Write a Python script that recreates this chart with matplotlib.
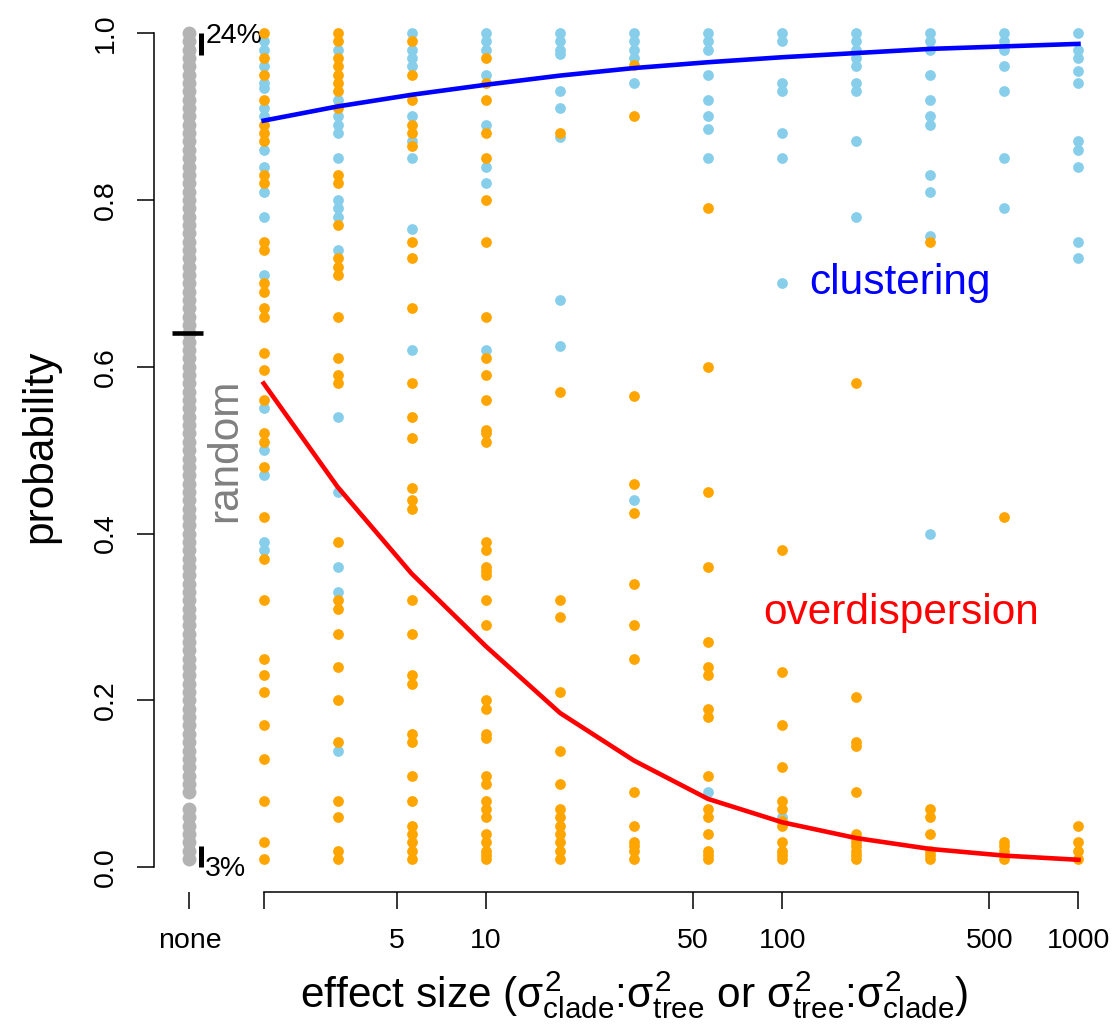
import matplotlib
matplotlib.use('Agg')
import matplotlib.pyplot as plt
from matplotlib.ticker import NullLocator

plt.rcParams['font.family'] = 'Liberation Sans'
plt.rcParams['mathtext.fontset'] = 'custom'
plt.rcParams['mathtext.rm'] = 'Liberation Sans'
plt.rcParams['mathtext.it'] = 'Liberation Sans'
plt.rcParams['mathtext.bf'] = 'Liberation Sans:bold'

# effect sizes of the simulated columns ("none" sits at 1)
effect = [1.78, 3.16, 5.62, 10, 17.8, 31.6, 56.2, 100, 178, 316, 562, 1000]
none_x = 1

# probabilities without any effect (grey column)
random_p = [0.01, 0.02, 0.03, 0.04, 0.05, 0.06, 0.07, 0.09, 0.10,
            0.11, 0.12, 0.13, 0.14, 0.15, 0.16, 0.17, 0.18, 0.19, 0.20,
            0.21, 0.22, 0.23, 0.24, 0.25, 0.26, 0.27, 0.28, 0.29, 0.30,
            0.31, 0.32, 0.33, 0.34, 0.35, 0.36, 0.37, 0.38, 0.39, 0.40,
            0.41, 0.42, 0.43, 0.44, 0.45, 0.46, 0.47, 0.48, 0.49, 0.50,
            0.51, 0.52, 0.53, 0.54, 0.55, 0.56, 0.57, 0.58, 0.59, 0.60,
            0.61, 0.62, 0.63, 0.64, 0.65, 0.66, 0.67, 0.68, 0.69, 0.70,
            0.71, 0.72, 0.73, 0.74, 0.75, 0.76, 0.77, 0.78, 0.79, 0.80,
            0.81, 0.82, 0.83, 0.84, 0.85, 0.86, 0.87, 0.88, 0.89, 0.90,
            0.91, 0.92, 0.93, 0.94, 0.95, 0.96, 0.97, 0.98, 0.99, 1.00]
random_mean = 0.64

# clustering simulations (sky blue), one list per effect size
clust_p = [
    [0.99, 0.98, 0.96, 0.94, 0.934, 0.91, 0.90, 0.86, 0.84, 0.81, 0.78, 0.71, 0.55, 0.50, 0.47, 0.39, 0.38],
    [0.98, 0.92, 0.90, 0.89, 0.88, 0.85, 0.80, 0.79, 0.78, 0.74, 0.54, 0.45, 0.36, 0.33, 0.14],
    [1.0, 0.98, 0.97, 0.96, 0.90, 0.87, 0.85, 0.765, 0.62],
    [1.0, 0.99, 0.98, 0.95, 0.89, 0.84, 0.82, 0.62],
    [1.0, 0.99, 0.98, 0.975, 0.93, 0.91, 0.875, 0.68, 0.625],
    [1.0, 0.99, 0.98, 0.97, 0.94, 0.44],
    [1.0, 0.99, 0.98, 0.95, 0.92, 0.90, 0.885, 0.85, 0.09],
    [1.0, 0.99, 0.94, 0.93, 0.88, 0.85, 0.70, 0.06],
    [1.0, 0.99, 0.98, 0.97, 0.96, 0.94, 0.93, 0.87, 0.78],
    [1.0, 0.99, 0.98, 0.95, 0.92, 0.90, 0.89, 0.83, 0.81, 0.757, 0.40],
    [1.0, 0.99, 0.98, 0.96, 0.93, 0.85, 0.79],
    [1.0, 0.98, 0.97, 0.955, 0.94, 0.87, 0.86, 0.84, 0.75, 0.73],
]

# overdispersion simulations (orange)
over_p = [
    [1.0, 0.97, 0.95, 0.92, 0.89, 0.88, 0.87, 0.83, 0.82, 0.75, 0.74, 0.70, 0.69, 0.67, 0.66,
     0.616, 0.596, 0.56, 0.52, 0.51, 0.48, 0.42, 0.37, 0.32, 0.25, 0.23, 0.21, 0.17, 0.13, 0.08, 0.03, 0.01],
    [1.0, 0.99, 0.97, 0.96, 0.95, 0.94, 0.93, 0.91, 0.83, 0.82, 0.77, 0.73, 0.72, 0.71, 0.66,
     0.61, 0.59, 0.58, 0.39, 0.32, 0.31, 0.28, 0.24, 0.20, 0.15, 0.08, 0.06, 0.02, 0.01],
    [0.99, 0.95, 0.92, 0.89, 0.88, 0.865, 0.75, 0.73, 0.67, 0.58, 0.54, 0.515, 0.455, 0.44, 0.43,
     0.32, 0.28, 0.23, 0.22, 0.16, 0.15, 0.11, 0.08, 0.05, 0.04, 0.03, 0.02, 0.01],
    [0.97, 0.94, 0.92, 0.88, 0.85, 0.80, 0.75, 0.66, 0.61, 0.59, 0.56, 0.524, 0.52, 0.51, 0.39,
     0.38, 0.36, 0.355, 0.35, 0.32, 0.29, 0.20, 0.19, 0.16, 0.155, 0.11, 0.10, 0.08, 0.07, 0.06,
     0.04, 0.03, 0.02, 0.015, 0.01],
    [0.88, 0.57, 0.32, 0.30, 0.21, 0.14, 0.10, 0.07, 0.06, 0.05, 0.04, 0.03, 0.02, 0.01],
    [0.962, 0.90, 0.565, 0.46, 0.425, 0.34, 0.29, 0.25, 0.09, 0.05, 0.03, 0.025, 0.02, 0.01],
    [0.79, 0.60, 0.45, 0.36, 0.27, 0.24, 0.23, 0.19, 0.18, 0.11, 0.07, 0.06, 0.04, 0.02, 0.015, 0.01],
    [0.38, 0.234, 0.17, 0.12, 0.08, 0.07, 0.055, 0.05, 0.03, 0.02, 0.015, 0.01],
    [0.58, 0.204, 0.15, 0.145, 0.09, 0.04, 0.035, 0.03, 0.025, 0.02, 0.015, 0.01],
    [0.75, 0.07, 0.06, 0.04, 0.02, 0.015, 0.01],
    [0.42, 0.03, 0.025, 0.02, 0.01],
    [0.05, 0.03, 0.02, 0.01],
]

# fitted curves read at each effect size
clust_curve = [0.895, 0.912, 0.926, 0.938, 0.949, 0.958, 0.965, 0.971, 0.976, 0.981, 0.984, 0.987]
over_curve = [0.58, 0.456, 0.352, 0.265, 0.185, 0.128, 0.082, 0.054, 0.035, 0.022, 0.014, 0.009]

xticks = [1, 1.78, 5, 10, 50, 100, 500, 1000]
xtick_labels = ['none', '', '5', '10', '50', '100', '500', '1000']
yticks = [0.0, 0.2, 0.4, 0.6, 0.8, 1.0]

fig = plt.figure(figsize=(11.16, 10.30), dpi=100)
ax = fig.add_axes([154 / 1116, 1 - 892 / 1030, 960 / 1116, 892 / 1030])
ax.set_xscale('log')
ax.set_xlim(0.759, 1318)
ax.set_ylim(-0.0296, 1.0396)

# grey column of random runs
ax.scatter([none_x] * len(random_p), random_p, s=100, color='#b3b3b3', linewidths=0, zorder=2)

for x, vals in zip(effect, clust_p):
    ax.scatter([x] * len(vals), vals, s=60, color='#87ceeb', linewidths=0, zorder=3)
for x, vals in zip(effect, over_p):
    ax.scatter([x] * len(vals), vals, s=60, color='#ffa500', linewidths=0, zorder=4)

ax.plot(effect, clust_curve, color='#0000ff', lw=3.3, zorder=5)
ax.plot(effect, over_curve, color='#ff0000', lw=3.3, zorder=5)

# quantile marks on the random column
ax.plot([1.09, 1.09], [0.974, 1.0], color='black', lw=3.6, solid_capstyle='butt', zorder=6)
ax.plot([1.09, 1.09], [0.0, 0.026], color='black', lw=3.6, solid_capstyle='butt', zorder=6)
ax.plot([0.875, 1.11], [random_mean, random_mean], color='black', lw=3.3, solid_capstyle='butt', zorder=6)
ax.text(1.13, 0.996, '24%', fontsize=20.5, ha='left', va='center')
ax.text(1.13, -0.002, '3%', fontsize=20.5, ha='left', va='center')

ax.text(1.32, 0.5, 'random', fontsize=30.5, color='#808080', rotation=90, ha='center', va='center')
ax.annotate('clustering', (100, 0.70), xytext=(27, 0), textcoords='offset pixels',
            fontsize=30.5, color='#0000ff', ha='left', va='center')
ax.text(252, 0.305, 'overdispersion', fontsize=30.5, color='#ff0000', ha='center', va='center')

# R-like axes
for side in ['top', 'right']:
    ax.spines[side].set_visible(False)
ax.spines['left'].set_bounds(0, 1)
ax.spines['bottom'].set_bounds(1.78, 1000)
ax.spines['left'].set_linewidth(1.1)
ax.spines['bottom'].set_linewidth(1.1)

ax.xaxis.set_minor_locator(NullLocator())
ax.set_xticks(xticks)
ax.set_xticklabels(xtick_labels)
ax.set_yticks(yticks)
ax.set_yticklabels(['%.1f' % v for v in yticks])
ax.tick_params(axis='both', direction='out', length=12.2, width=1.1, labelsize=20.5)
ax.tick_params(axis='x', pad=14)
ax.tick_params(axis='y', pad=13)
for lab in ax.get_yticklabels():
    lab.set_rotation(90)
    lab.set_va('center')

ax.set_xlabel(r'effect size ($\sigma^2_{\rm clade}$:$\sigma^2_{\rm tree}$ or $\sigma^2_{\rm tree}$:$\sigma^2_{\rm clade}$)',
              fontsize=30.5, va='center')
ax.xaxis.set_label_coords(0.5, -0.1155)
ax.set_ylabel('probability', fontsize=30.5, va='center')
ax.yaxis.set_label_coords(-0.119, 0.5)

fig.savefig('out.png', dpi=100)
